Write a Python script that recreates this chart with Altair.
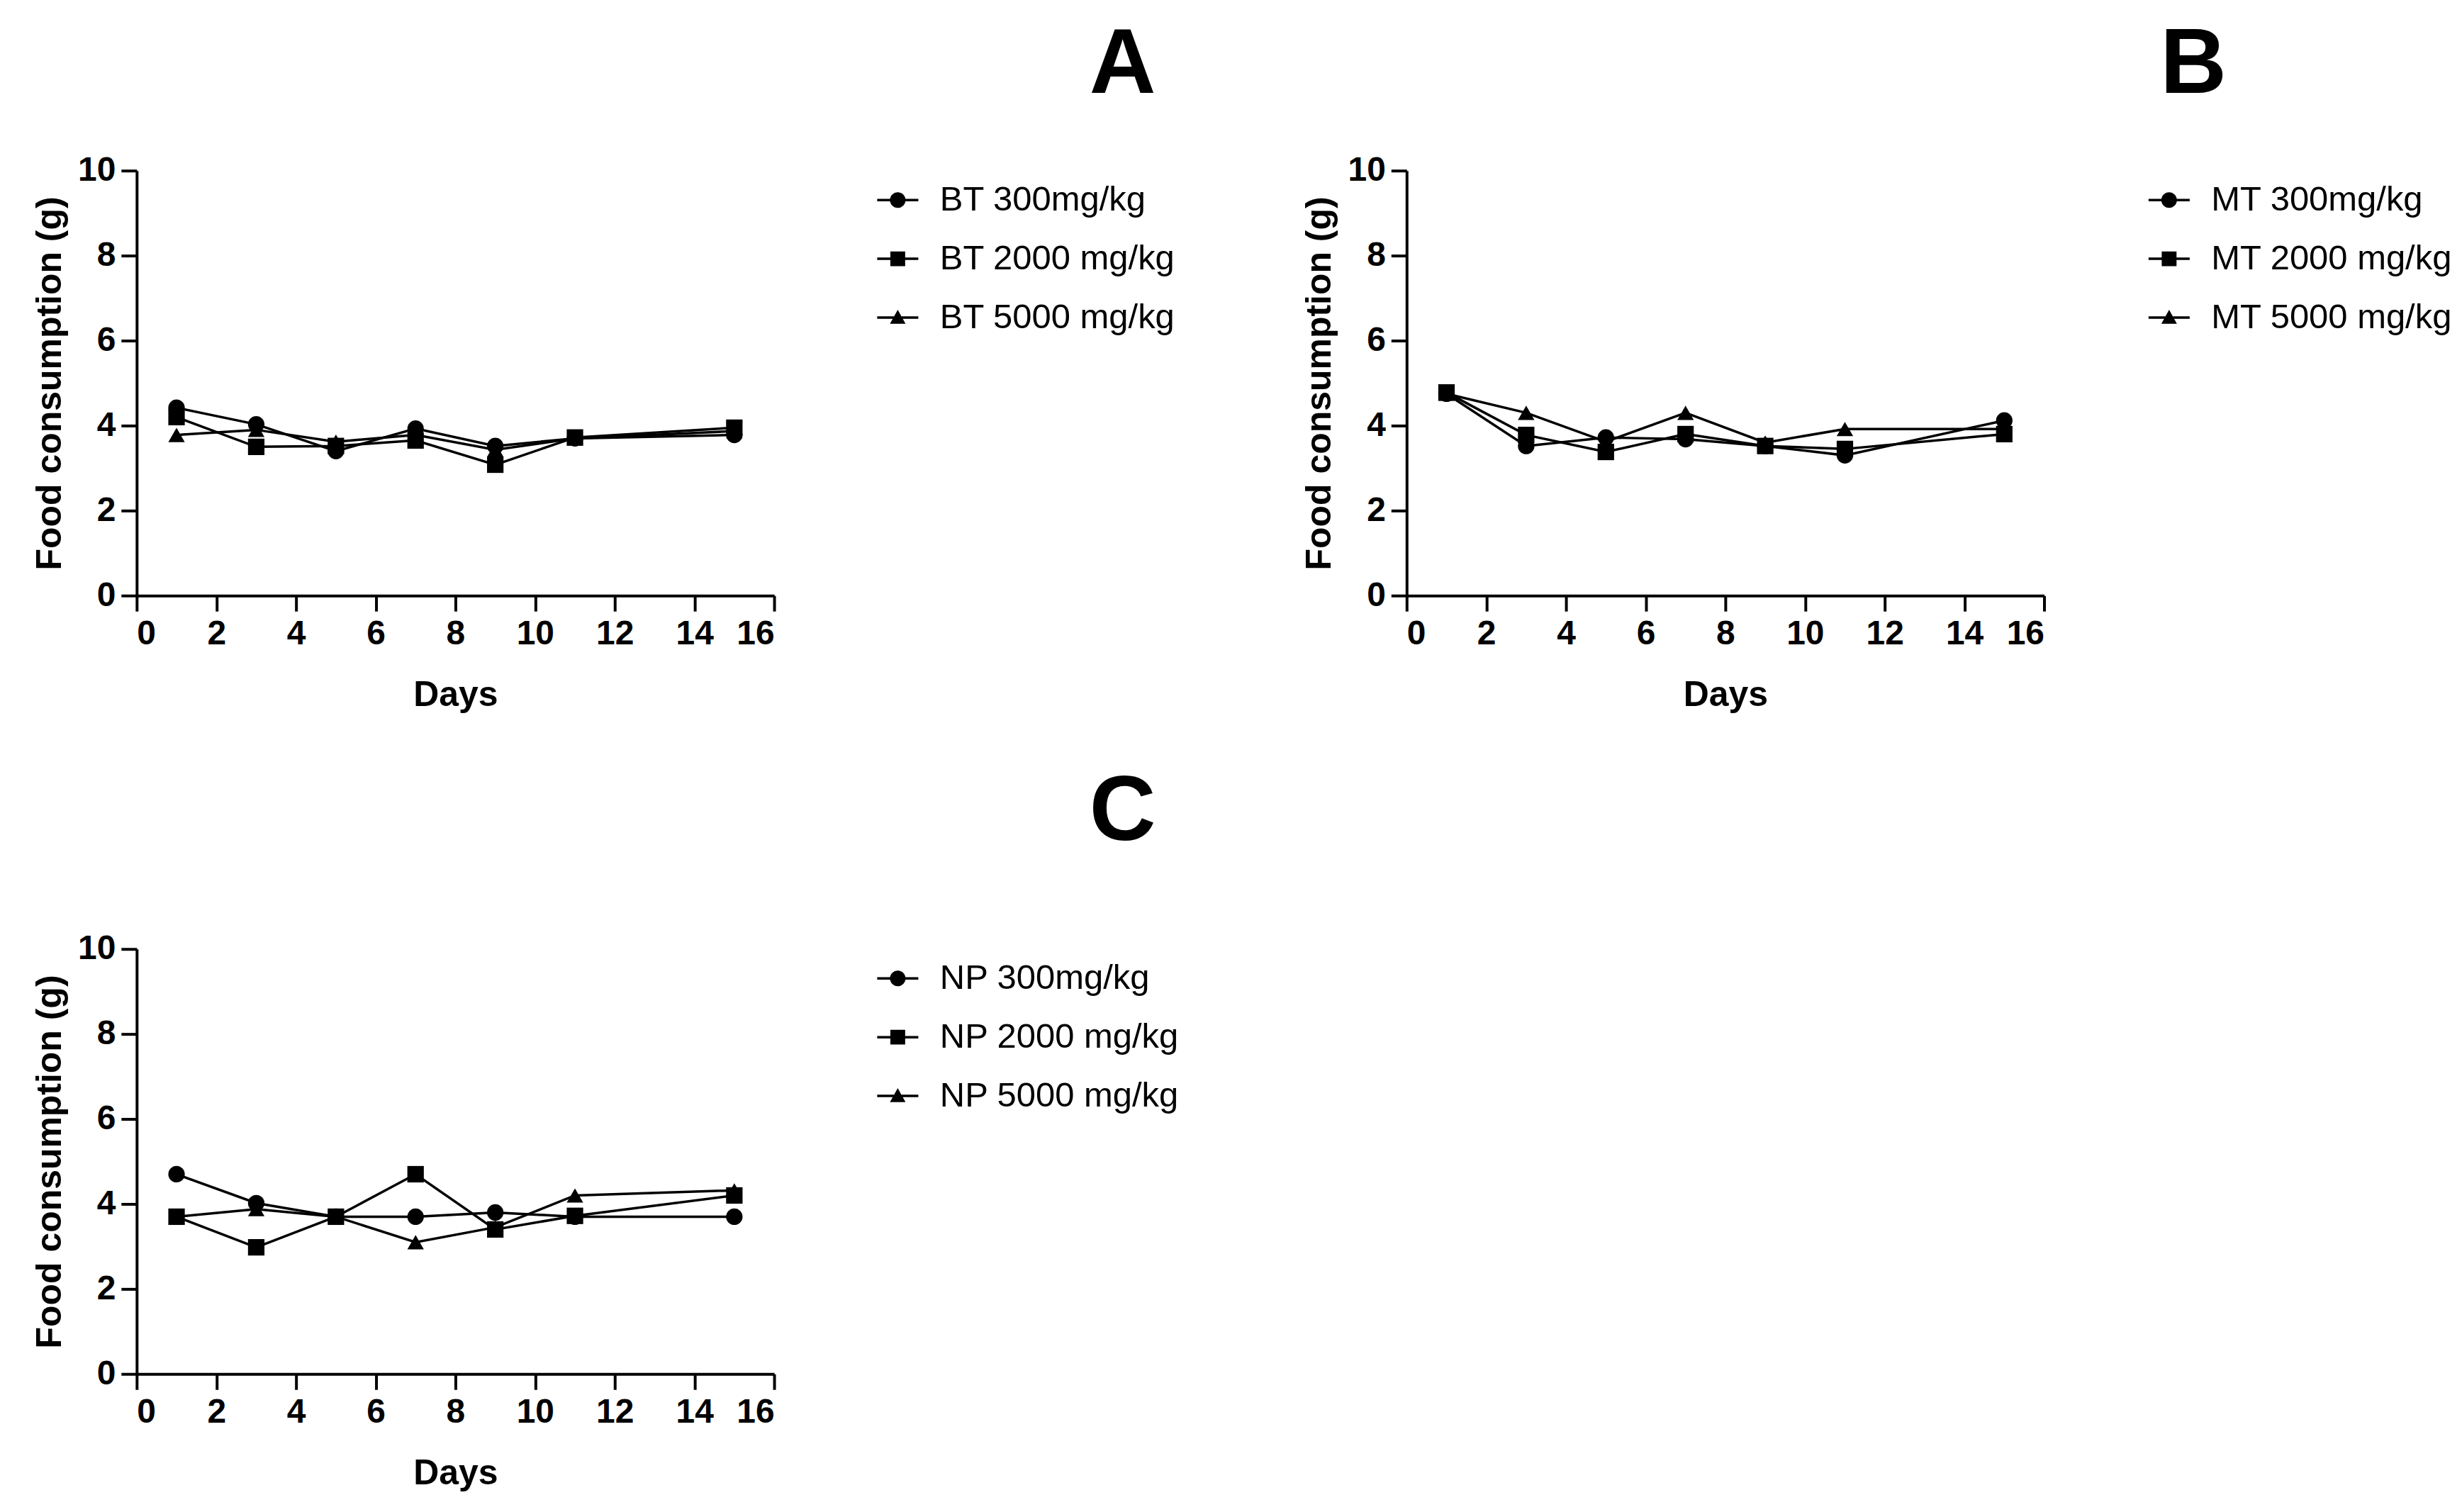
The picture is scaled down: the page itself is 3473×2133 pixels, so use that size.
import altair as alt
import pandas as pd

days = [1, 3, 5, 7, 9, 11, 15]

bt_labels = ["BT 300mg/kg", "BT 2000 mg/kg", "BT 5000 mg/kg"]
bt_300 = [4.42, 4.03, 3.40, 3.93, 3.52, 3.70, 3.78]
bt_2000 = [4.20, 3.50, 3.52, 3.65, 3.08, 3.72, 3.95]
bt_5000 = [3.78, 3.90, 3.62, 3.78, 3.43, 3.70, 3.87]

mt_labels = ["MT 300mg/kg", "MT 2000 mg/kg", "MT 5000 mg/kg"]
mt_300 = [4.75, 3.52, 3.72, 3.68, 3.52, 3.30, 4.12]
mt_2000 = [4.78, 3.78, 3.38, 3.80, 3.52, 3.45, 3.80]
mt_5000 = [4.75, 4.30, 3.62, 4.30, 3.60, 3.92, 3.92]

np_labels = ["NP 300mg/kg", "NP 2000 mg/kg", "NP 5000 mg/kg"]
np_300 = [4.70, 4.02, 3.70, 3.70, 3.80, 3.70, 3.70]
np_2000 = [3.70, 2.98, 3.70, 4.70, 3.40, 3.72, 4.20]
np_5000 = [3.70, 3.88, 3.70, 3.10, 3.45, 4.20, 4.32]

x_ticks = [0, 2, 4, 6, 8, 10, 12, 14, 16]
y_ticks = [0, 2, 4, 6, 8, 10]

FONT = "Liberation Sans, Arial, sans-serif"

plot_shapes = ["circle", "square", "triangle-up"]


def stubs(inner):
    # two thin filled bars left and right of the marker (legend line look)
    return ("M-2.64,-0.16H-{i}V0.16H-2.64Z"
            "M{i},-0.16H2.64V0.16H{i}Z").format(i=inner)


legend_shapes = [
    stubs(0.9) + "M1,0A1,1,0,1,1,-1,0A1,1,0,1,1,1,0Z",
    stubs(0.9) + "M-0.95,-0.95H0.95V0.95H-0.95Z",
    stubs(0.5) + "M0,-1L1,0.8H-1Z",
]


def make_df(labels, series):
    rows = []
    for order, (lab, vals) in enumerate(zip(labels, series)):
        for d, v in zip(days, vals):
            rows.append({"day": d, "value": v, "series": lab, "order": order})
    return pd.DataFrame(rows)


def panel(letter, labels, series, title_dx, title_offset, legend_x):
    df = make_df(labels, series)
    x = alt.X("day:Q", title="Days",
              scale=alt.Scale(domain=[0, 16], nice=False, zero=False),
              axis=alt.Axis(values=x_ticks, format="d"))
    y = alt.Y("value:Q", title="Food consumption (g)",
              scale=alt.Scale(domain=[0, 10], nice=False),
              axis=alt.Axis(values=y_ticks, format="d"))
    base = alt.Chart(df)
    lines = base.mark_line(color="black", strokeWidth=3.5).encode(
        x=x, y=y, detail="series:N", order="day:Q")
    points = base.mark_point(filled=True, color="black", opacity=1, size=540).encode(
        x=x, y=y,
        shape=alt.Shape("series:N",
                        scale=alt.Scale(domain=labels, range=plot_shapes),
                        legend=None))
    leg = base.mark_point(filled=True, color="black", opacity=1).encode(
        x=x, y=y,
        shape=alt.Shape("series:N",
                        scale=alt.Scale(domain=labels, range=legend_shapes),
                        legend=alt.Legend(title=None, orient="none",
                                          legendX=legend_x, legendY=17,
                                          symbolSize=484,
                                          symbolFillColor="black",
                                          symbolOpacity=1,
                                          labelFont=FONT, labelFontSize=49,
                                          labelFontWeight="normal",
                                          labelColor="black",
                                          labelOffset=35, labelLimit=1000,
                                          rowPadding=33, padding=0,
                                          values=labels))
    ).transform_filter("false")
    return alt.layer(lines, points, leg).resolve_scale(shape="independent").properties(
        width=900, height=600,
        title=alt.TitleParams(letter, anchor="start", frame="group", dx=title_dx,
                              offset=title_offset, baseline="alphabetic",
                              fontSize=130, fontWeight="bold", font=FONT,
                              color="black"))


pa = panel("A", bt_labels, [bt_300, bt_2000, bt_5000], 1345, -44, 1050)
pb = panel("B", mt_labels, [mt_300, mt_2000, mt_5000], 1064, -44, 1052)
pc = panel("C", np_labels, [np_300, np_2000, np_5000], 1345, 0, 1050)

chart = alt.vconcat(
    alt.hconcat(pa, pb, spacing=178),
    pc,
    spacing=76,
).properties(
    padding={"left": 37, "top": 18, "right": 5, "bottom": 5}
).configure_view(stroke=None).configure_axis(
    grid=False,
    domainColor="black", domainWidth=4,
    tickColor="black", tickWidth=4, tickSize=22,
    labelFont=FONT, labelFontSize=48, labelFontWeight="bold", labelColor="black",
    labelPadding=8,
    titleFont=FONT, titleFontSize=50, titleFontWeight="bold", titleColor="black",
).configure_axisY(titlePadding=14).configure_axisX(titlePadding=37)

chart.save("out.html", embed_options={"renderer": "svg", "actions": False})
